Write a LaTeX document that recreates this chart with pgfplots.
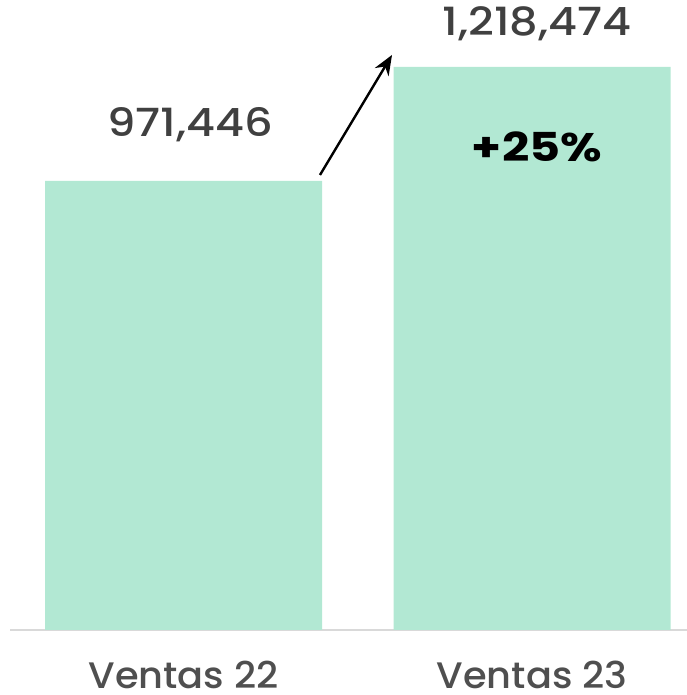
\documentclass[border=0pt]{standalone}
\usepackage{pgfplots}
\pgfplotsset{compat=1.18}
\usetikzlibrary{arrows.meta}
\usepackage{fontspec}
\setmainfont{Poppins}[UprightFont={* Medium}, BoldFont={* Bold}]
\definecolor{barcol}{HTML}{B2E8D3}
\definecolor{txtcol}{HTML}{404040}
\definecolor{labcol}{HTML}{4F4F4F}
\definecolor{axcol}{HTML}{D9D9D9}
\begin{document}
\begin{tikzpicture}
\begin{axis}[
    scale only axis,
    width=677bp, height=630bp,
    xmin=10, xmax=687,
    ymin=0, ymax=1363000,
    clip=false,
    axis x line=bottom,
    axis y line=none,
    x axis line style={-, color=axcol, line width=2bp},
    xtick={183.5,532},
    xticklabels={Ventas 22, Ventas 23},
    major tick length=0pt,
    xticklabel style={anchor=base, inner sep=0pt, yshift=-59bp, font=\fontsize{37}{40}\selectfont\addfontfeatures{FakeStretch=1.04}, text=labcol},
    ytick=\empty,
]
\addplot[ybar, bar width=277, fill=barcol, draw=none] coordinates {(183.5,971446) (532,1218474)};
\node[text=txtcol, font=\fontsize{39}{42}\selectfont\addfontfeatures{FakeStretch=1.15}] at (axis cs:190,1092618) {971,446};
\node[text=txtcol, font=\fontsize{39}{42}\selectfont\addfontfeatures{FakeStretch=1.15}] at (axis cs:537,1311142) {1,218,474};
\node[text=black, font=\fontsize{40}{42}\selectfont\bfseries\addfontfeatures{FakeStretch=1.2}] at (axis cs:537,1045019) {+25\%};
\draw[-{Stealth[length=20bp,width=16bp]}, line width=2.4bp, black] (axis cs:320,984438) -- (axis cs:392,1244070);
\coordinate (bl) at (axis cs:0,-140634);
\coordinate (tr) at (axis cs:687,1363000);
\end{axis}
\pgfresetboundingbox
\useasboundingbox (bl) rectangle (tr);
\end{tikzpicture}
\end{document}
